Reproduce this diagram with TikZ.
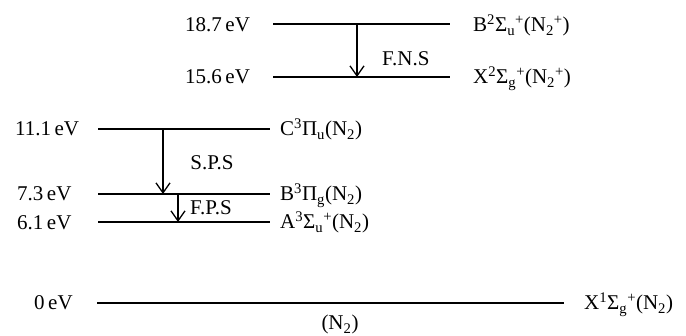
\documentclass[tikz,border=0pt]{standalone}
\usepackage{fontspec}
\setmainfont{Liberation Serif}
\usetikzlibrary{arrows.meta}
\begin{document}
\begin{tikzpicture}[x=1pt,y=-1pt,
  level/.style={line width=1.8pt},
  trans/.style={line width=1.3pt,-{Straight Barb[length=10pt,width=14pt,line width=1.3pt]}},
  lab/.style={anchor=base west,inner sep=0pt,font=\fontsize{21}{25}\selectfont},
  labc/.style={anchor=base,inner sep=0pt,font=\fontsize{21}{25}\selectfont}]
\useasboundingbox (0,0) rectangle (686,336);
% level endpoints
\coordinate (b1) at (273,24);  \coordinate (b2) at (450,24);
\coordinate (x1) at (273,77);  \coordinate (x2) at (450,77);
\coordinate (c1) at (98,129);  \coordinate (c2) at (270,129);
\coordinate (bb1) at (98,194); \coordinate (bb2) at (270,194);
\coordinate (a1) at (98,222);  \coordinate (a2) at (270,222);
\coordinate (g1) at (97,303);  \coordinate (g2) at (564,303);
\draw[level] (b1) -- (b2);
\draw[level] (x1) -- (x2);
\draw[level] (c1) -- (c2);
\draw[level] (bb1) -- (bb2);
\draw[level] (a1) -- (a2);
\draw[level] (g1) -- (g2);
% transitions
\coordinate (fnsT) at (357,24);  \coordinate (fnsB) at (357,77);
\coordinate (spsT) at (163,129); \coordinate (spsB) at (163,194);
\coordinate (fpsT) at (178,194); \coordinate (fpsB) at (178,222);
\draw[trans] (fnsT) -- (fnsB);
\draw[trans] (spsT) -- (spsB);
\draw[trans] (fpsT) -- (fpsB);
\node[lab] (fns) at (382,66) {F.N.S};
\node[labc] (sps) at (212,170) {S.P.S};
\node[lab] (fps) at (190,215) {F.P.S};
% energies
\node[lab] (e187) at (185,32) {18.7\,eV};
\node[lab] (e156) at (185,84) {15.6\,eV};
\node[lab] (e111) at (15,136) {11.1\,eV};
\node[lab] (e73) at (17,201) {7.3\,eV};
\node[lab] (e61) at (17,230) {6.1\,eV};
\node[lab] (e0) at (34,310) {0\,eV};
% states
\node[lab] (sB) at (473,32) {B\textsuperscript{2}Σ\textsubscript{u}\textsuperscript{+}(N\textsubscript{2}\textsuperscript{+})};
\node[lab] (sX) at (473,84) {X\textsuperscript{2}Σ\textsubscript{g}\textsuperscript{+}(N\textsubscript{2}\textsuperscript{+})};
\node[lab] (sC) at (280,136) {C\textsuperscript{3}Π\textsubscript{u}(N\textsubscript{2})};
\node[lab] (sBB) at (280,201) {B\textsuperscript{3}Π\textsubscript{g}(N\textsubscript{2})};
\node[lab] (sA) at (280,229) {A\textsuperscript{3}Σ\textsubscript{u}\textsuperscript{+}(N\textsubscript{2})};
\node[lab] (sG) at (584,310) {X\textsuperscript{1}Σ\textsubscript{g}\textsuperscript{+}(N\textsubscript{2})};
\node[labc] (n2) at (340,330) {(N\textsubscript{2})};
\end{tikzpicture}
\end{document}
